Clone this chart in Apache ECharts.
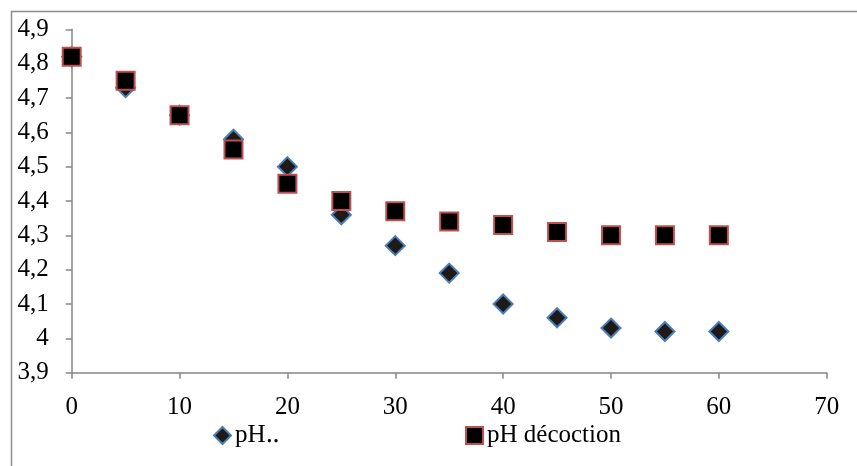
<!DOCTYPE html>
<html>
<head>
<meta charset="utf-8">
<script src="https://cdn.jsdelivr.net/npm/echarts@6/dist/echarts.min.js"></script>
<style>html,body{margin:0;padding:0;background:#fff}#c{width:857px;height:466px}</style>
</head>
<body>
<div id="c"></div>
<script>
const times = [0, 5, 10, 15, 20, 25, 30, 35, 40, 45, 50, 55, 60];
const phA = [4.82, 4.73, 4.65, 4.58, 4.50, 4.36, 4.27, 4.19, 4.10, 4.06, 4.03, 4.02, 4.02];
const phDecoction = [4.82, 4.75, 4.65, 4.55, 4.45, 4.40, 4.37, 4.34, 4.33, 4.31, 4.30, 4.30, 4.30];
const seriesNames = ['pH‥', 'pH décoction'];

const font = '"Liberation Serif", "Times New Roman", serif';
const fs = 25;
const chart = echarts.init(document.getElementById('c'));
const pairs = arr => times.map((t, i) => [t, arr[i]]);
chart.setOption({
  animation: false,
  backgroundColor: '#fff',
  textStyle: { fontFamily: font },
  grid: { left: 71.7, right: 30.3, top: 29.3, bottom: 93.3, containLabel: false },
  graphic: [{
    type: 'rect', silent: true, z: -10,
    shape: { x: 11.5, y: 11.5, width: 900, height: 500 },
    style: { fill: 'none', stroke: '#8c8c8c', lineWidth: 1.5 }
  }],
  xAxis: {
    type: 'value', min: 0, max: 70, interval: 10,
    axisLine: { show: true, lineStyle: { color: '#868686', width: 1.5 } },
    axisTick: { show: true, length: 6, lineStyle: { color: '#868686', width: 1.5 } },
    splitLine: { show: false },
    axisLabel: { color: '#000', fontSize: fs, fontFamily: font, margin: 22 }
  },
  yAxis: {
    type: 'value', min: 3.9, max: 4.9, interval: 0.1,
    axisLine: { show: true, lineStyle: { color: '#868686', width: 1.5 } },
    axisTick: { show: true, length: 6, lineStyle: { color: '#868686', width: 1.5 } },
    splitLine: { show: false },
    axisLabel: {
      color: '#000', fontSize: fs, fontFamily: font, margin: 23,
      formatter: v => String(Number(v.toFixed(1))).replace('.', ',')
    }
  },
  legend: [
    {
      data: [seriesNames[0]], left: 213, top: 423, padding: 0, itemWidth: 17, itemHeight: 17, itemGap: 0,
      textStyle: { color: '#000', fontSize: fs, fontFamily: font, padding: [0, 0, 0, -1] }
    },
    {
      data: [seriesNames[1]], left: 465, top: 423, padding: 0, itemWidth: 17, itemHeight: 17, itemGap: 0,
      textStyle: { color: '#000', fontSize: fs, fontFamily: font, padding: [0, 0, 0, -1] }
    }
  ],
  series: [
    {
      name: seriesNames[0], type: 'scatter', symbol: 'diamond', symbolSize: 19,
      data: pairs(phA),
      itemStyle: { color: '#1f1a17', borderColor: '#4a7ebb', borderWidth: 2, opacity: 1 }
    },
    {
      name: seriesNames[1], type: 'scatter', symbol: 'rect', symbolSize: 18,
      data: pairs(phDecoction),
      itemStyle: { color: '#000', borderColor: '#c0504d', borderWidth: 2, opacity: 1 }
    }
  ]
});
</script>
</body>
</html>
